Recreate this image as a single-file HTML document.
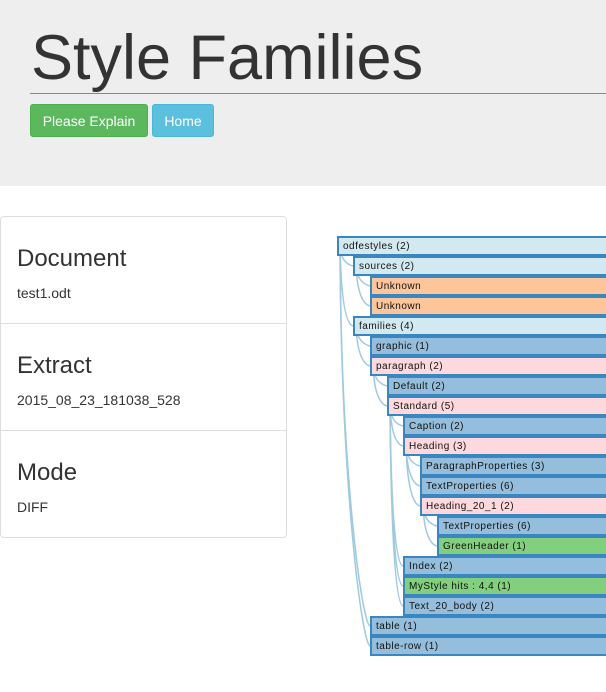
<!DOCTYPE html>
<html><head><meta charset="utf-8"><style>
body{margin:0;width:606px;height:692px;overflow:hidden;background:#fff;font-family:"Liberation Sans",Arial,sans-serif;position:relative;color:#333}
.hdr{position:absolute;left:0;top:0;width:606px;height:186px;background:#eee}
h1{position:absolute;left:31px;top:18px;margin:0;font-size:63px;font-weight:normal;line-height:80px;color:#333}
.hr{position:absolute;left:30px;top:93px;width:576px;height:1px;background:#888}
.btn{position:absolute;top:104px;height:33px;border-radius:3px;color:#fff;font-size:14px;line-height:33px;text-align:center;box-sizing:border-box}
.panel{position:absolute;left:0;top:216px;width:287px;height:322px;border:1px solid #ddd;border-radius:4px;box-sizing:border-box}
.sec{position:absolute;left:0;width:285px;border-top:1px solid #ddd}
.sec h2{position:absolute;left:16px;margin:0;font-size:24px;font-weight:normal;color:#333}
.sec p{position:absolute;left:16px;margin:0;font-size:14px;color:#333}
.r{position:absolute;height:20px;right:-10px;border:2px solid #3a86c0;box-sizing:border-box;font-size:10px;letter-spacing:0.5px;line-height:18px;padding-left:4px;color:#111}
.lb{background:#d2e9f1}.or{background:#fdc59a}.bl{background:#94bedb}.pk{background:#fdd8dc}.gr{background:#82d07e}
svg{position:absolute;left:0;top:0}
</style></head><body>
<div class="hdr"></div>
<h1>Style Families</h1>
<div class="hr"></div>
<div class="btn" style="left:30px;width:118px;background:#5cb85c;border:1px solid #4cae4c">Please Explain</div>
<div class="btn" style="left:152px;width:62px;background:#5bc0de;border:1px solid #46b8da">Home</div>
<div class="panel">
<div class="sec" style="top:0;height:106px;border-top:none"><h2 style="top:28px">Document</h2><p style="top:68px">test1.odt</p></div>
<div class="sec" style="top:106px;height:107px"><h2 style="top:28px">Extract</h2><p style="top:68px">2015_08_23_181038_528</p></div>
<div class="sec" style="top:213px;height:107px"><h2 style="top:28px">Mode</h2><p style="top:68px">DIFF</p></div>
</div>
<svg width="606" height="692" id="s"></svg>
<div id="t"></div>
<script>
var rows=[["odfestyles (2)",0,"lb"],["sources (2)",1,"lb"],["Unknown",2,"or"],["Unknown",2,"or"],["families (4)",1,"lb"],["graphic (1)",2,"bl"],["paragraph (2)",2,"pk"],["Default (2)",3,"bl"],["Standard (5)",3,"pk"],["Caption (2)",4,"bl"],["Heading (3)",4,"pk"],["ParagraphProperties (3)",5,"bl"],["TextProperties (6)",5,"bl"],["Heading_20_1 (2)",5,"pk"],["TextProperties (6)",6,"bl"],["GreenHeader (1)",6,"gr"],["Index (2)",4,"bl"],["MyStyle hits : 4,4 (1)",4,"gr"],["Text_20_body (2)",4,"bl"],["table (1)",2,"bl"],["table-row (1)",2,"bl"]];
var X=[337,353,370,387,403,420,437];
var h="",p="",st=[];
rows.forEach(function(r,i){var y=236+i*20,x=X[r[1]];
h+='<div class="r '+r[2]+'" style="left:'+x+'px;top:'+y+'px">'+r[0]+'</div>';
while(st.length&&st[st.length-1].l>=r[1])st.pop();
var par=st.length?st[st.length-1]:null;
if(r[1]==2&&r[0].indexOf("table")==0)par={x:337,y:236};
if(par){var px=par.x+3,py=par.y+10,cy=y+10;p+='<path d="M'+px+' '+py+' C'+(px+1)+' '+(py+(cy-py)*0.6)+' '+(x-8)+' '+(cy-2)+' '+x+' '+cy+'" fill="none" stroke="#9ecae1" stroke-width="1.5"/>';}
st.push({l:r[1],x:x,y:y});});
document.getElementById("t").innerHTML=h;document.getElementById("s").innerHTML=p;
</script>
</body></html>
